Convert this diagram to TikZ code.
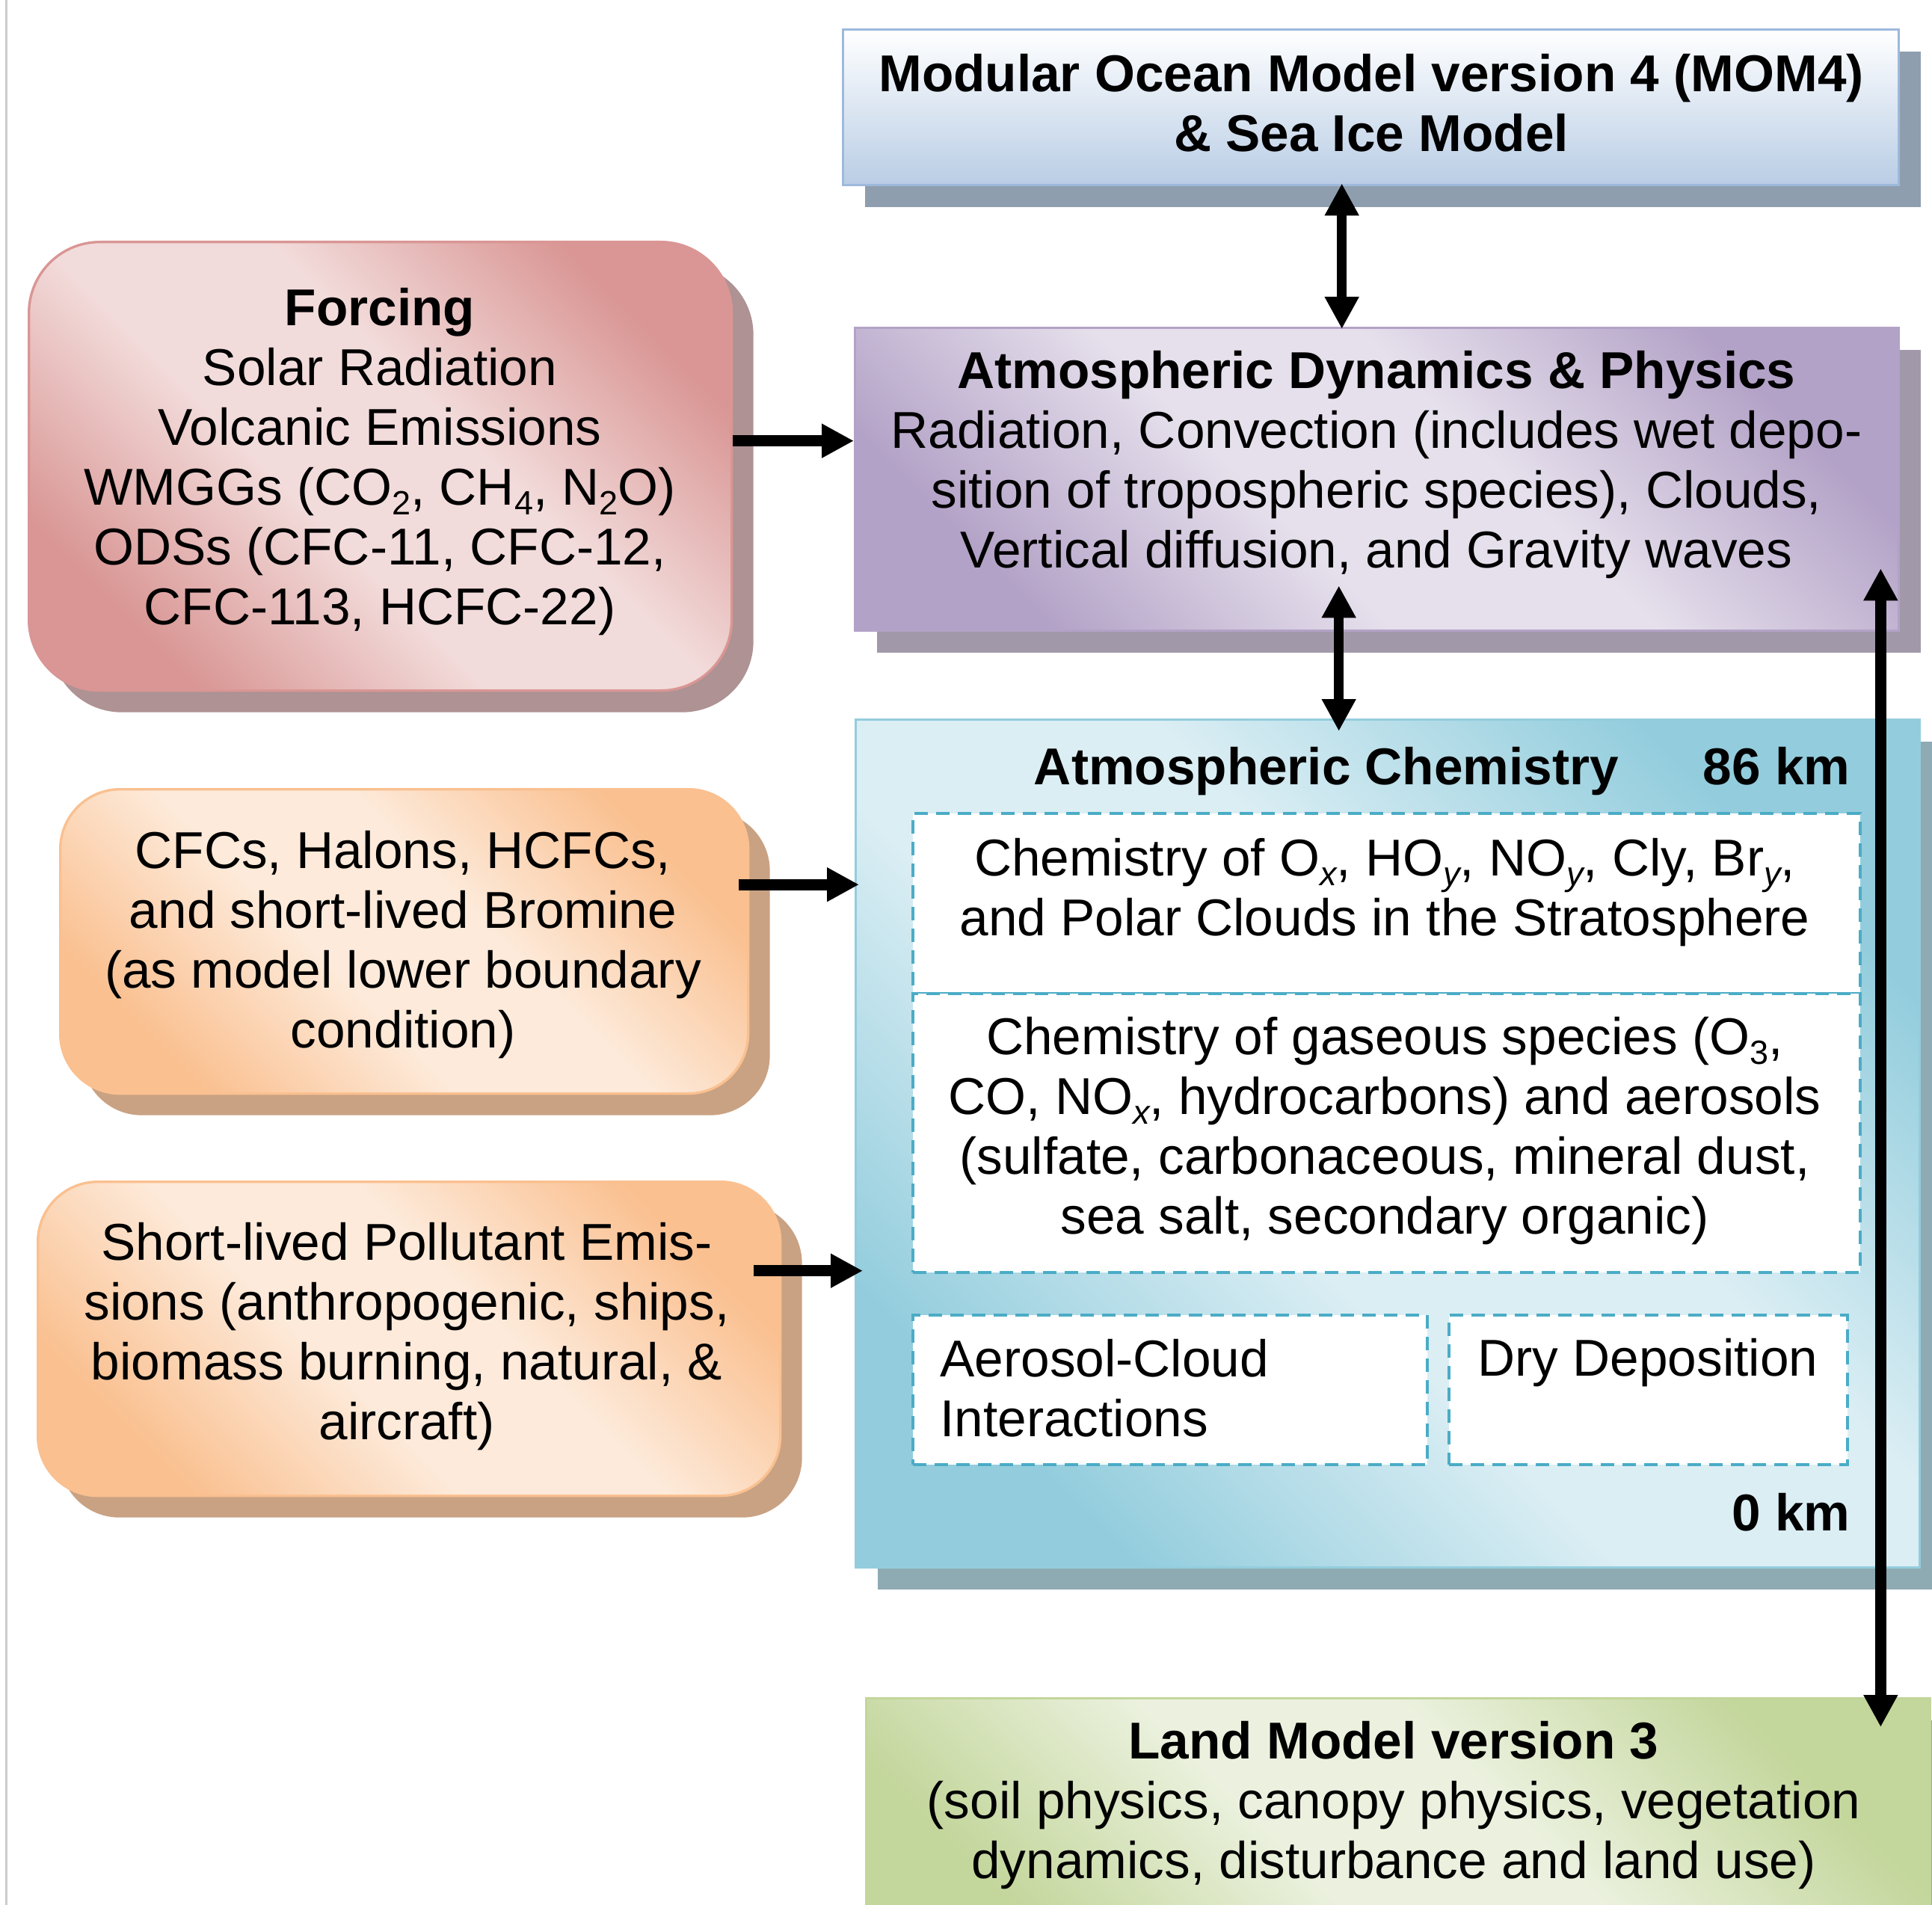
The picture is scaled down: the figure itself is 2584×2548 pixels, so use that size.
\documentclass[tikz,border=0pt]{standalone}
\usepackage{fontspec}
\setmainfont{Liberation Sans}
\usetikzlibrary{arrows.meta,shadows,calc}
\definecolor{oceanB}{HTML}{B9CDE5}
\definecolor{oceanE}{HTML}{9DB9DC}
\definecolor{oceanS}{HTML}{8F9EAE}
\definecolor{dynD}{HTML}{B3A2C7}
\definecolor{dynL}{HTML}{E6E0EC}
\definecolor{dynS}{HTML}{A199A9}
\definecolor{chemD}{HTML}{93CDDD}
\definecolor{chemL}{HTML}{DBEEF4}
\definecolor{chemS}{HTML}{8EAAB3}
\definecolor{landD}{HTML}{C3D69B}
\definecolor{landL}{HTML}{EBF1DE}
\definecolor{landS}{HTML}{A3AD92}
\definecolor{forD}{HTML}{D99694}
\definecolor{forL}{HTML}{F2DCDB}
\definecolor{forS}{HTML}{AE9294}
\definecolor{orD}{HTML}{FAC090}
\definecolor{orL}{HTML}{FDEADA}
\definecolor{orS}{HTML}{C9A283}
\definecolor{dashc}{HTML}{4BACC6}
\newcommand\mkdiag[3]{\pgfdeclareverticalshading{#1}{100bp}{color(0bp)=(#2); color(25bp)=(#2); color(43bp)=(#3); color(57bp)=(#3); color(75bp)=(#2); color(100bp)=(#2)}}
\mkdiag{dynsh}{dynD}{dynL}
\mkdiag{chemsh}{chemD}{chemL}
\mkdiag{landsh}{landD}{landL}
\mkdiag{forsh}{forD}{forL}
\mkdiag{orsh}{orD}{orL}
\newcommand\subs[1]{\raisebox{-0.35ex}{\fontsize{13.5}{13.5}\selectfont #1}}
\begin{document}
\begin{tikzpicture}[x=0.3pt,y=-0.3pt,
  box/.style={draw=#1, line width=1pt, inner sep=0pt, anchor=north west},
  shad/.style={general shadow={fill=#1, shadow xshift=8.7pt, shadow yshift=-8.7pt}},
  diag/.style={shading=#1, shading angle=-45},
  dbox/.style={draw=dashc, fill=white, line width=1.2pt, dash pattern=on 5.4pt off 3.3pt, inner sep=0pt, anchor=north west},
  txt/.style={font=\fontsize{20.8}{24}\selectfont, align=center, inner sep=0pt},
  harr/.style={line width=4.5pt, -{Triangle[length=12.9pt,width=12.9pt]}},
  varr/.style={line width=3.8pt, {Triangle[length=12.9pt,width=12.9pt]}-{Triangle[length=12.9pt,width=12.9pt]}}
]
\useasboundingbox (0,0) rectangle (2584,2548);
\fill[white] (0,0) rectangle (2584,2548);
\draw[line width=0.9pt, draw=black!20] (8,0) -- (8,2548);

% boxes
\node[box=oceanE, shad=oceanS, top color=white, bottom color=oceanB, minimum width=423.6pt, minimum height=62.4pt] (ocean) at (1126,38) {};
\node[box=dynD, shad=dynS, diag=dynsh, minimum width=418.8pt, minimum height=121.5pt] (dyn) at (1142,437) {};
\node[box=chemD, shad=chemS, diag=chemsh, minimum width=426.9pt, minimum height=340.2pt] (chem) at (1143,961) {};
\node[box=landD, shad=landS, diag=landsh, minimum width=426.9pt, minimum height=105pt] (land) at (1157,2270) {};
\node[box=forD, shad=forS, diag=forsh, rounded corners=28.5pt, minimum width=282pt, minimum height=180pt] (forcing) at (37,322) {};
\node[box=orD, shad=orS, diag=orsh, rounded corners=24pt, minimum width=276pt, minimum height=122.1pt] (cfc) at (79,1054) {};
\node[box=orD, shad=orS, diag=orsh, rounded corners=24pt, minimum width=297.9pt, minimum height=126pt] (short) at (49,1579) {};

% inner dashed boxes
\node[dbox, minimum width=380.1pt, minimum height=72.3pt] (strat) at (1219,1086) {};
\node[dbox, minimum width=380.1pt, minimum height=111.9pt] (trop) at (1219,1327) {};
\node[dbox, minimum width=206.4pt, minimum height=60pt] (aer) at (1219,1757) {};
\node[dbox, minimum width=159.9pt, minimum height=60pt] (dry) at (1936,1757) {};

% texts
\node[txt] (tocean) at (1834,138) {\textbf{Modular Ocean Model version 4 (MOM4)}\\\textbf{\& Sea Ice Model}};
\node[txt] (tdyn) at (1841,622) {\textbf{Atmospheric Dynamics \& Physics}\\Radiation, Convection (includes wet depo-\\sition of tropospheric species), Clouds,\\Vertical diffusion, and Gravity waves};
\node[txt] (tfor) at (508,618) {\textbf{Forcing}\\Solar Radiation\\Volcanic Emissions\\WMGGs (CO\subs{2}, CH\subs{4}, N\subs{2}O)\\ODSs (CFC-11, CFC-12,\\CFC-113, HCFC-22)};
\node[txt] (tcfc) at (539,1264) {CFCs, Halons, HCFCs,\\and short-lived Bromine\\(as model lower boundary\\condition)};
\node[txt] (tshort) at (544,1788) {Short-lived Pollutant Emis-\\sions (anthropogenic, ships,\\biomass burning, natural, \&\\aircraft)};
\node[txt, anchor=base] (tchem) at (1774,1049) {\textbf{Atmospheric Chemistry}};
\node[txt, anchor=base east] (t86) at (2475,1049) {\textbf{86 km}};
\node[txt, anchor=base east] (t0) at (2475,2047) {\textbf{0 km}};
\node[txt] (tstrat) at (1852,1194) {Chemistry of O\subs{\itshape x}, HO\subs{\itshape y}, NO\subs{\itshape y}, Cly, Br\subs{\itshape y},\\and Polar Clouds in the Stratosphere};
\node[txt] (ttrop) at (1852,1513) {Chemistry of gaseous species (O\subs{3},\\CO, NO\subs{\itshape x}, hydrocarbons) and aerosols\\(sulfate, carbonaceous, mineral dust,\\sea salt, secondary organic)};
\node[txt, align=left, anchor=west] (taer) at (1257,1857) {Aerosol-Cloud\\Interactions};
\node[txt, anchor=base west] (tdry) at (1976,1840) {Dry Deposition};
\node[txt] (tland) at (1864,2415) {\textbf{Land Model version 3}\\(soil physics, canopy physics, vegetation\\dynamics, disturbance and land use)};

% connectors
\coordinate (fa) at ($(forcing.east)+(0,-34)$);
\draw[harr] (fa) -- (fa -| dyn.west);
\coordinate (ca) at ($(cfc.east)+(-14,-76)$);
\draw[harr] (ca) -- ($(ca -| chem.west)+(6,0)$);
\coordinate (sa) at ($(short.east)+(-37,-91)$);
\draw[harr] (sa) -- ($(sa -| chem.west)+(11,0)$);
\coordinate (oa) at ($(ocean.south)+(-39,-4)$);
\draw[varr] (oa) -- ($(oa |- dyn.north)+(0,3)$);
\coordinate (da) at ($(dyn.south)+(-51,-62)$);
\draw[varr] (da) -- ($(da |- chem.north)+(0,17)$);
\coordinate (ra) at ($(dyn.south east)+(-26,-85)$);
\draw[line width=4.5pt, {Triangle[length=12.9pt,width=12.9pt]}-{Triangle[length=12.9pt,width=12.9pt]}] (ra) -- ($(ra |- land.north)+(0,40)$);
\end{tikzpicture}
\end{document}
